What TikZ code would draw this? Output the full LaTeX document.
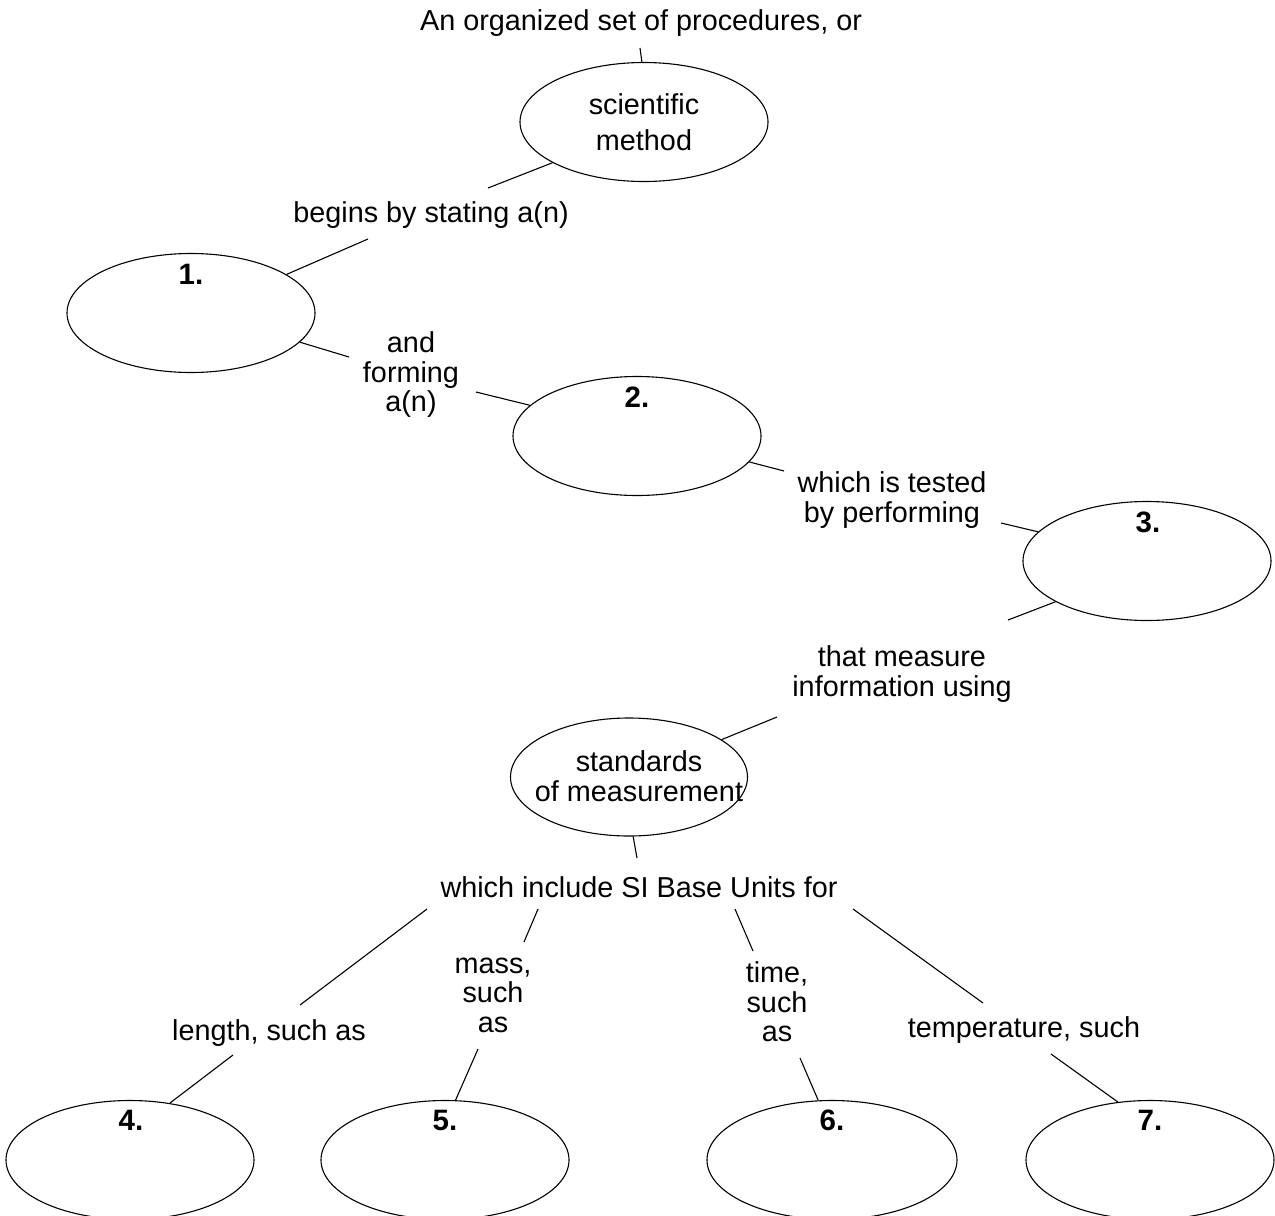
\documentclass[tikz,border=0pt]{standalone}
\usepackage{fontspec}
\setmainfont{Liberation Sans}
\usetikzlibrary{shapes.geometric}
\begin{document}
\begin{tikzpicture}[x=1pt,y=-1pt,
  every node/.style={font=\fontsize{28.8}{29.5}\selectfont},
  bub/.style={draw, ellipse, line width=1.1pt, minimum width=248pt, minimum height=119pt, inner sep=0pt},
  txt/.style={align=center, inner sep=0pt},
  num/.style={font=\fontsize{29.5}{30}\selectfont\bfseries, inner sep=0pt},
  link/.style={line width=1.1pt}]
\clip (0,0) rectangle (1275,1216);
% ellipses
\node[bub, txt] (sm) at (644,122) {scientific\\[6pt]method};
\node[bub] (e1) at (191,313) {};
\node[bub] (e2) at (637,436) {};
\node[bub] (e3) at (1147,561) {};
\node[bub, minimum width=237pt, minimum height=118pt] (std) at (629,777) {};
\node[txt] (stdtxt) at (639,776) {standards\\of measurement};
\node[bub] (e4) at (130,1160) {};
\node[bub] (e5) at (445,1160) {};
\node[bub, minimum width=250pt] (e6) at (832,1160) {};
\node[bub] (e7) at (1150,1160) {};
% numbers
\node[num] (n1) at (191,274) {1.};
\node[num] (n2) at (637,397) {2.};
\node[num] (n3) at (1148,522) {3.};
\node[num] (n4) at (131,1120) {4.};
\node[num] (n5) at (445,1120) {5.};
\node[num] (n6) at (832,1120) {6.};
\node[num] (n7) at (1150,1120) {7.};
% linking texts
\node[txt] (t0) at (641,23) {An organized set of procedures, or};
\node[txt] (t1) at (431,215) {begins by stating a(n)};
\node[txt] (t2) at (411,375) {and\\forming\\a(n)};
\node[txt] (t3) at (892,500) {which is tested\\by performing};
\node[txt] (t4) at (902,674) {that measure\\information using};
\node[txt] (t5) at (639,887) {which include SI Base Units for};
\node[txt] (t6) at (269,1033) {length, such as};
\node[txt] (t7) at (493,995) {mass,\\such\\as};
\node[txt] (t8) at (777,1002) {time,\\such\\as};
\node[txt] (t9) at (1024,1030) {temperature, such};
% free ends
\coordinate (c0) at (640,48);
\coordinate (c1) at (488,188);
\coordinate (c2) at (368,239);
\coordinate (c3) at (349,357);
\coordinate (c4) at (476,392);
\coordinate (c5) at (784,471);
\coordinate (c6) at (1001,523);
\coordinate (c7) at (1008,620);
\coordinate (c8) at (777,717);
\coordinate (c9) at (637,858);
\coordinate (c10) at (427,909);
\coordinate (c11) at (300,1005);
\coordinate (c12) at (233,1055);
\coordinate (c13) at (538,909);
\coordinate (c14) at (524,942);
\coordinate (c15) at (478,1049);
\coordinate (c16) at (735,909);
\coordinate (c17) at (753,951);
\coordinate (c18) at (800,1058);
\coordinate (c19) at (853,909);
\coordinate (c20) at (983,1003);
\coordinate (c21) at (1051,1054);
% connectors
\draw[link] (c0) -- (sm.92);
\draw[link] (sm.204) -- (c1);
\draw[link] (c2) -- (e1.22.6);
\draw[link] (e1.-15.4) -- (c3);
\draw[link] (c4) -- (e2.164.5);
\draw[link] (e2.-13) -- (c5);
\draw[link] (c6) -- (e3.165);
\draw[link] (e3.204) -- (c7);
\draw[link] (c8) -- (std.22);
\draw[link] (std.-86) -- (c9);
\draw[link] (c10) -- (c11);
\draw[link] (c12) -- (e4.55);
\draw[link] (c13) -- (c14);
\draw[link] (c15) -- (e5.80);
\draw[link] (c16) -- (c17);
\draw[link] (c18) -- (e6.103);
\draw[link] (c19) -- (c20);
\draw[link] (c21) -- (e7.119);
\end{tikzpicture}
\end{document}
